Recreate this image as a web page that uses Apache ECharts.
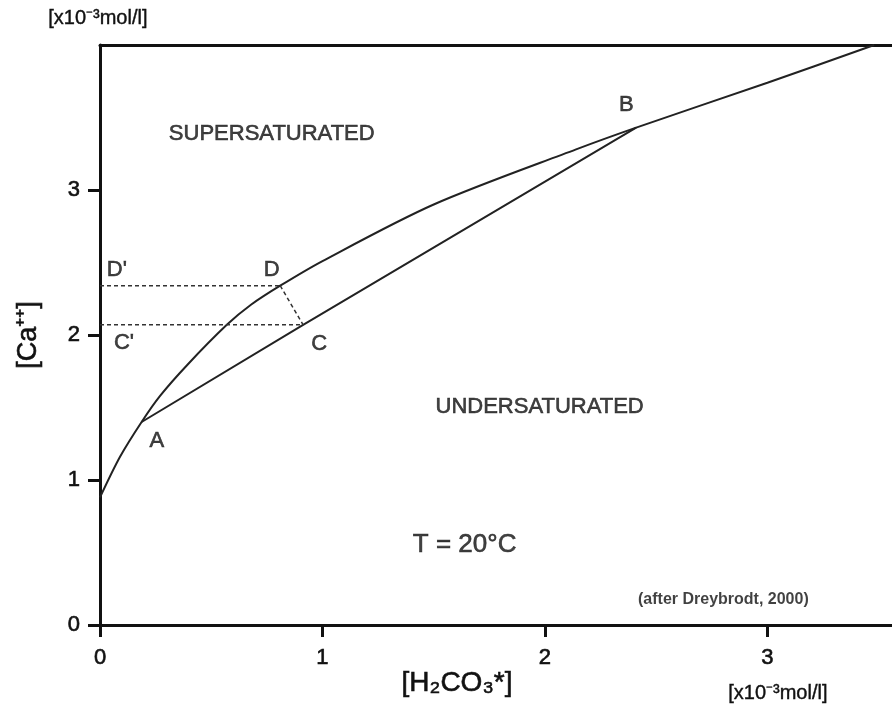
<!DOCTYPE html>
<html>
<head>
<meta charset="utf-8">
<script src="https://cdn.jsdelivr.net/npm/echarts@6/dist/echarts.min.js"></script>
<style>
html,body{margin:0;padding:0;background:#fff;}
#chart{width:892px;height:717px;}
</style>
</head>
<body>
<div id="chart"></div>
<script>
// Equilibrium curve [H2CO3*] vs [Ca++]
const eqX = [0, 0.09, 0.187, 0.27, 0.39, 0.57, 0.68, 0.81, 1.0, 1.5, 2.14, 2.41, 3.0, 3.48];
const eqY = [0.88, 1.16, 1.40, 1.58, 1.79, 2.07, 2.21, 2.34, 2.51, 2.90, 3.28, 3.43, 3.74, 4.0];
// Mixing line A - C - B
const mixX = [0.187, 0.913, 2.41];
const mixY = [1.40, 2.07, 3.43];
// Points
const ptA = [0.187, 1.40];
const ptB = [2.41, 3.43];
const ptC = [0.913, 2.07];
const ptD = [0.81, 2.34];
// Axis ticks
const xTicks = [0, 1, 2, 3];
const yTicks = [0, 1, 2, 3];
// Annotation labels
const labelTexts = ["D'", "D", "C'", "C", "A", "B"];
const labelX = [0.076, 0.772, 0.108, 0.985, 0.256, 2.366];
const labelY = [2.45, 2.45, 1.945, 1.94, 1.27, 3.59];
const regionTexts = ["SUPERSATURATED", "UNDERSATURATED"];
const regionX = [0.772, 1.976];
const regionY = [3.39, 1.503];
const noteTemp = ["T = 20°C", 1.639, 0.552];
const noteSrc = ["(after Dreybrodt, 2000)", 2.802, 0.172];

const FONT = '"Liberation Sans", Arial, Helvetica, sans-serif';
const TXT = '#111';
const chart = echarts.init(document.getElementById('chart'));

const zip = (xs, ys) => xs.map((x, i) => [x, ys[i]]);

const labelData = labelTexts.map((t, i) => ({ value: [labelX[i], labelY[i]], name: t }));
const regionData = regionTexts.map((t, i) => ({ value: [regionX[i], regionY[i]], name: t }));
const thick = { textBorderColor: TXT, textBorderWidth: 0.6 };

chart.setOption({
  animation: false,
  backgroundColor: '#fff',
  grid: { left: 100, right: 0, top: 45, bottom: 92 },
  xAxis: [{
    type: 'value', min: 0, max: 3.56, interval: 1,
    splitLine: { show: false },
    axisLine: { lineStyle: { color: '#111', width: 3 } },
    axisTick: { customValues: xTicks, length: 12, lineStyle: { color: '#111', width: 3 } },
    axisLabel: Object.assign({ customValues: xTicks, margin: 22, fontSize: 22, color: TXT, fontFamily: FONT }, thick)
  }, {
    type: 'value', min: 0, max: 3.56, position: 'top',
    splitLine: { show: false },
    axisLine: { show: true, lineStyle: { color: '#111', width: 3 } },
    axisTick: { show: false }, axisLabel: { show: false }
  }],
  yAxis: {
    type: 'value', min: 0, max: 4, interval: 1,
    splitLine: { show: false },
    axisLine: { lineStyle: { color: '#111', width: 3 } },
    axisTick: { customValues: yTicks, length: 12, lineStyle: { color: '#111', width: 3 } },
    axisLabel: Object.assign({ customValues: yTicks, margin: 20, fontSize: 22, color: TXT, fontFamily: FONT }, thick)
  },
  graphic: [
    { type: 'text', left: 48, top: 8, style: Object.assign({ text: '[x10⁻³mol/l]', fontSize: 20, fill: TXT, fontFamily: FONT, stroke: TXT, lineWidth: 0.4 }) },
    { type: 'text', left: 728, top: 683, style: { text: '[x10⁻³mol/l]', fontSize: 20, fill: TXT, fontFamily: FONT, stroke: TXT, lineWidth: 0.4 } },
    { type: 'text', x: 457, y: 683, style: { text: '[H₂CO₃*]', fontSize: 28, fill: TXT, fontFamily: FONT, align: 'center', verticalAlign: 'middle', stroke: TXT, lineWidth: 0.6 } },
    { type: 'text', x: 29, y: 335, rotation: Math.PI / 2, style: { text: '[Ca⁺⁺]', fontSize: 27, fill: TXT, fontFamily: FONT, align: 'center', verticalAlign: 'middle', stroke: TXT, lineWidth: 0.6 } }
  ],
  series: [
    { type: 'line', data: zip(eqX, eqY), smooth: 0.3, symbol: 'none', clip: true,
      lineStyle: { color: '#222', width: 2 } },
    { type: 'line', data: zip(mixX, mixY), symbol: 'none',
      lineStyle: { color: '#222', width: 2 } },
    { type: 'line', data: [[0, ptD[1]], ptD], symbol: 'none',
      lineStyle: { color: '#333', width: 1.5, type: [4, 3] } },
    { type: 'line', data: [[0, ptC[1]], ptC], symbol: 'none',
      lineStyle: { color: '#333', width: 1.5, type: [4, 3] } },
    { type: 'line', data: [ptD, ptC], symbol: 'none',
      lineStyle: { color: '#333', width: 1.5, type: [4, 3] } },
    { type: 'scatter', data: labelData, symbolSize: 0, silent: true,
      label: Object.assign({ show: true, position: 'inside', formatter: p => p.name, fontSize: 22, color: TXT, fontFamily: FONT }, thick) },
    { type: 'scatter', data: regionData, symbolSize: 0, silent: true,
      label: Object.assign({ show: true, position: 'inside', formatter: p => p.name, fontSize: 22, color: TXT, fontFamily: FONT }, thick) },
    { type: 'scatter', data: [{ value: [noteTemp[1], noteTemp[2]], name: noteTemp[0] }], symbolSize: 0, silent: true,
      label: Object.assign({ show: true, position: 'inside', formatter: p => p.name, fontSize: 26, color: TXT, fontFamily: FONT }, thick) },
    { type: 'scatter', data: [{ value: [noteSrc[1], noteSrc[2]], name: noteSrc[0] }], symbolSize: 0, silent: true,
      label: { show: true, position: 'inside', formatter: p => p.name, fontSize: 16, fontWeight: 'bold', color: TXT, fontFamily: FONT } }
  ]
});
</script>
</body>
</html>
